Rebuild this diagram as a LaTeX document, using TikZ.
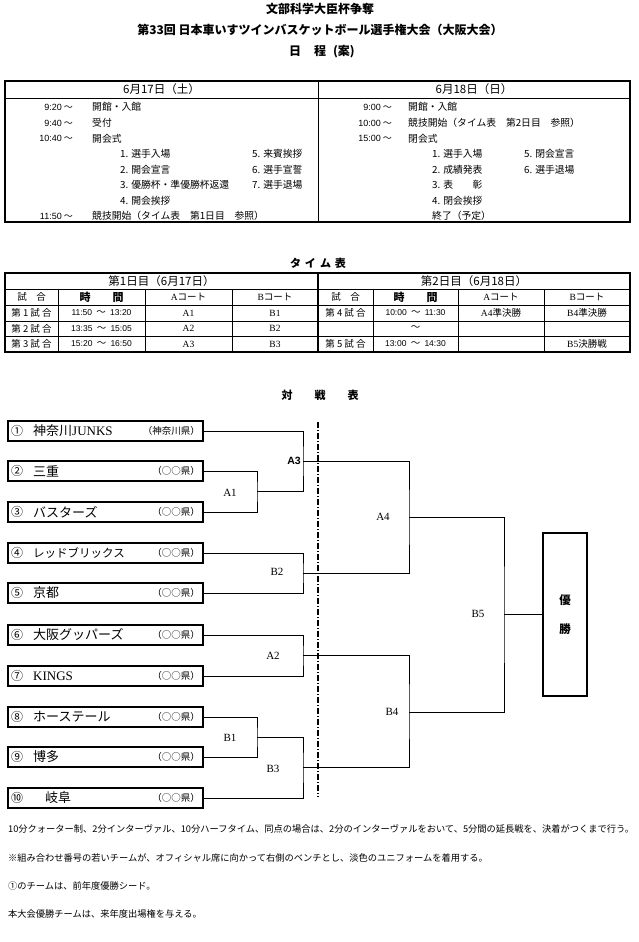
\documentclass[tikz,border=0pt]{standalone}
\usepackage{fontspec}
\setmainfont{Noto Sans CJK JP}
\newfontfamily\lat{Liberation Serif}
\newfontfamily\ars{Liberation Sans}
\begin{document}
\begin{tikzpicture}[x=1pt,y=-1pt,
  frame/.style={line width=1.1pt},
  thin/.style={line width=0.6pt},
  conn/.style={line width=0.8pt},
  ttl/.style={font=\fontsize{12}{14}\selectfont\bfseries, inner sep=0pt},
  txt/.style={font=\fontsize{9.8}{11}\selectfont, inner sep=0pt, anchor=west},
  tim/.style={font=\fontsize{9}{11}\selectfont, inner sep=0pt, anchor=east},
  hdr/.style={font=\fontsize{11.5}{13}\selectfont, inner sep=0pt},
  cell/.style={font=\fontsize{9.5}{11}\selectfont, inner sep=0pt},
  team/.style={draw, line width=1.1pt, minimum width=195pt, minimum height=20pt, inner sep=0pt},
  num/.style={font=\fontsize{12}{14}\selectfont, inner sep=0pt, anchor=west},
  tname/.style={font=\fontsize{13}{15}\selectfont, inner sep=0pt, anchor=west},
  pref/.style={font=\fontsize{9.5}{11}\selectfont, inner sep=0pt, anchor=east},
  lbl/.style={font=\fontsize{11}{13}\selectfont\lat, inner sep=0pt},
  note/.style={font=\fontsize{9.25}{11}\selectfont, inner sep=0pt, anchor=west}
]
\useasboundingbox[fill=white] (0,0) rectangle (639,942);

% titles
\node[ttl] (t1line) at (320,9) {文部科学大臣杯争奪};
\node[ttl] (t2line) at (320,30) {第33回 日本車いすツインバスケットボール選手権大会（大阪大会）};
\node[ttl] (t3line) at (322,52) {日\hspace{13pt}程\hspace{7pt}(案)};

% schedule table
\draw[frame] (5,81) rectangle (630,222);
\draw[thin] (5,98) -- (630,98);
\draw[thin] (318,81) -- (318,222);
\node[hdr] (sh1) at (161.5,89.5) {6月17日（土）};
\node[hdr] (sh2) at (474,89.5) {6月18日（日）};

\node[tim] (lt1) at (73,107) {{\ars 9:20}\ ～};
\node[tim] (lt2) at (73,123) {{\ars 9:40}\ ～};
\node[tim] (lt3) at (73,138.5) {{\ars 10:40}\ ～};
\node[tim] (lt4) at (73,216) {{\ars 11:50}\ ～};
\node[txt] (lx1) at (92,107) {開館・入館};
\node[txt] (lx2) at (92,123) {受付};
\node[txt] (lx3) at (92,138.5) {開会式};
\node[txt] (lx4) at (120,154) {1. 選手入場};
\node[txt] (lx5) at (120,170) {2. 開会宣言};
\node[txt] (lx6) at (120,185) {3. 優勝杯・準優勝杯返還};
\node[txt] (lx7) at (120,201) {4. 開会挨拶};
\node[txt] (lx8) at (252,154) {5. 来賓挨拶};
\node[txt] (lx9) at (252,170) {6. 選手宣誓};
\node[txt] (lx10) at (252,185) {7. 選手退場};
\node[txt] (lx11) at (92,216) {競技開始（タイム表　第1日目　参照）};

\node[tim] (rt1) at (392,107) {{\ars 9:00}\ ～};
\node[tim] (rt2) at (392,123) {{\ars 10:00}\ ～};
\node[tim] (rt3) at (392,138.5) {{\ars 15:00}\ ～};
\node[txt] (rx1) at (408,107) {開館・入館};
\node[txt] (rx2) at (408,123) {競技開始（タイム表　第2日目　参照）};
\node[txt] (rx3) at (408,138.5) {閉会式};
\node[txt] (rx4) at (432,154) {1. 選手入場};
\node[txt] (rx5) at (432,170) {2. 成績発表};
\node[txt] (rx6) at (432,185) {3. 表　　彰};
\node[txt] (rx7) at (432,201) {4. 閉会挨拶};
\node[txt] (rx8) at (524,154) {5. 閉会宣言};
\node[txt] (rx9) at (524,170) {6. 選手退場};
\node[txt] (rx10) at (432,216) {終了（予定）};

% time table
\node[font=\fontsize{11}{13}\selectfont\bfseries, inner sep=0pt] (ttt) at (318,263) {タ\hspace{4pt}イ\hspace{4pt}ム\hspace{4pt}表};
\draw[frame] (5,273) rectangle (630,352);
\foreach \yy in {289,305,321,336} \draw[thin] (5,\yy) -- (630,\yy);
\draw[frame] (318,273) -- (318,352);
\foreach \xx in {58,145,232,373,458,544} \draw[thin] (\xx,289) -- (\xx,352);
\node[hdr] (d1) at (161.5,281) {第1日目（6月17日）};
\node[hdr] (d2) at (474,281) {第2日目（6月18日）};
\node[cell] (c11) at (31.5,297) {試　合};
\node[cell,font=\fontsize{11}{13}\selectfont\bfseries] (c12) at (101.5,297) {時　　間};
\node[cell] (c13) at (188.5,297) {{\lat A}コート};
\node[cell] (c14) at (275,297) {{\lat B}コート};
\node[cell] (c15) at (345.5,297) {試　合};
\node[cell,font=\fontsize{11}{13}\selectfont\bfseries] (c16) at (415.5,297) {時　　間};
\node[cell] (c17) at (501,297) {{\lat A}コート};
\node[cell] (c18) at (587,297) {{\lat B}コート};

\node[cell] (r1a) at (31.5,313) {第 1 試 合};
\node[cell] (r1b) at (101.5,313) {{\ars\fontsize{8.5}{10}\selectfont 11:50}\ \ ～\ \ {\ars\fontsize{8.5}{10}\selectfont 13:20}};
\node[cell] (r1c) at (188.5,313) {\lat A1};
\node[cell] (r1d) at (275,313) {\lat B1};
\node[cell] (r2a) at (31.5,328.5) {第 2 試 合};
\node[cell] (r2b) at (101.5,328.5) {{\ars\fontsize{8.5}{10}\selectfont 13:35}\ \ ～\ \ {\ars\fontsize{8.5}{10}\selectfont 15:05}};
\node[cell] (r2c) at (188.5,328.5) {\lat A2};
\node[cell] (r2d) at (275,328.5) {\lat B2};
\node[cell] (r3a) at (31.5,344) {第 3 試 合};
\node[cell] (r3b) at (101.5,344) {{\ars\fontsize{8.5}{10}\selectfont 15:20}\ \ ～\ \ {\ars\fontsize{8.5}{10}\selectfont 16:50}};
\node[cell] (r3c) at (188.5,344) {\lat A3};
\node[cell] (r3d) at (275,344) {\lat B3};

\node[cell] (s1a) at (345.5,313) {第 4 試 合};
\node[cell] (s1b) at (415.5,313) {{\ars\fontsize{8.5}{10}\selectfont 10:00}\ \ ～\ \ {\ars\fontsize{8.5}{10}\selectfont 11:30}};
\node[cell] (s1c) at (501,313) {{\lat A4}準決勝};
\node[cell] (s1d) at (587,313) {{\lat B4}準決勝};
\node[cell] (s2b) at (415.5,328.5) {～};
\node[cell] (s3a) at (345.5,344) {第 5 試 合};
\node[cell] (s3b) at (415.5,344) {{\ars\fontsize{8.5}{10}\selectfont 13:00}\ \ ～\ \ {\ars\fontsize{8.5}{10}\selectfont 14:30}};
\node[cell] (s3d) at (587,344) {{\lat B5}決勝戦};

% bracket title
\node[font=\fontsize{11}{13}\selectfont\bfseries, inner sep=0pt] (btt) at (320,395) {対　　戦　　表};

% teams
\newcommand\teamrow[4]{%
  \node[team] (t#1) at (105.5,#2) {};
  \node[num] (n#1) at (11,#2) {#3};
  \node[pref] (p#1) at (200,#2) {#4};
}
\teamrow{1}{431}{①}{（神奈川県）}
\node[tname] (m1) at (33,431) {神奈川{\lat JUNKS}};
\teamrow{2}{471}{②}{（○○県）}
\node[tname] (m2) at (33,471) {三重};
\teamrow{3}{512}{③}{（○○県）}
\node[tname] (m3) at (33,512) {バスターズ};
\teamrow{4}{553}{④}{（○○県）}
\node[tname,font=\fontsize{11.5}{13}\selectfont] (m4) at (33,553) {レッドブリックス};
\teamrow{5}{593}{⑤}{（○○県）}
\node[tname] (m5) at (33,593) {京都};
\teamrow{6}{635}{⑥}{（○○県）}
\node[tname] (m6) at (33,635) {大阪グッパーズ};
\teamrow{7}{676}{⑦}{（○○県）}
\node[tname] (m7) at (33,676) {\lat KINGS};
\teamrow{8}{717}{⑧}{（○○県）}
\node[tname] (m8) at (33,717) {ホーステール};
\teamrow{9}{757}{⑨}{（○○県）}
\node[tname] (m9) at (33,757) {博多};
\teamrow{10}{798}{⑩}{（○○県）}
\node[tname] (m10) at (45,798) {岐阜};

\node[draw, line width=1.1pt, minimum width=44pt, minimum height=163pt, inner sep=0pt] (win) at (565,614.5) {};
\node[font=\fontsize{11.5}{13}\selectfont\bfseries, inner sep=0pt] (w1) at (565,600) {優};
\node[font=\fontsize{11.5}{13}\selectfont\bfseries, inner sep=0pt] (w2) at (565,629) {勝};

% junctions
\coordinate (A1) at (257,491.5);
\coordinate (A3) at (303,461);
\coordinate (B2) at (303,573);
\coordinate (A4) at (409,517);
\coordinate (A2) at (303,655.5);
\coordinate (B1) at (257,737);
\coordinate (B3) at (303,767.5);
\coordinate (B4) at (409,712);
\coordinate (B5) at (504,614.5);

\draw[conn] (t2.east) -| (A1) |- (t3.east);
\draw[conn] (t1.east) -| (A3) |- (A1);
\draw[conn] (t4.east) -| (B2) |- (t5.east);
\draw[conn] (A3) -| (A4) |- (B2);
\draw[conn] (t6.east) -| (A2) |- (t7.east);
\draw[conn] (t8.east) -| (B1) |- (t9.east);
\draw[conn] (B1) -| (B3) |- (t10.east);
\draw[conn] (A2) -| (B4) |- (B3);
\draw[conn] (A4) -| (B5) |- (B4);
\draw[conn] (B5) -- (win.west);

% labels
\node[lbl] (lA1) at (230,493) {A1};
\node[font=\fontsize{10.5}{12}\selectfont\ars\bfseries, inner sep=0pt, anchor=east] (lA3) at (301,461) {A3};
\node[lbl] (lB2) at (277,572) {B2};
\node[lbl] (lA4) at (383,517) {A4};
\node[lbl] (lA2) at (273,656) {A2};
\node[lbl] (lB1) at (230,738) {B1};
\node[lbl] (lB3) at (273,769) {B3};
\node[lbl] (lB4) at (392,712) {B4};
\node[lbl] (lB5) at (478,614) {B5};

% dash-dot divider
\coordinate (dv1) at (318,422);
\coordinate (dv2) at (318,797);
\draw[line width=1.4pt, dash pattern=on 6pt off 2pt on 1pt off 2pt] (dv1) -- (dv2);

% notes
\node[note] (nt1) at (8,829) {10分クォーター制、2分インターヴァル、10分ハーフタイム、同点の場合は、2分のインターヴァルをおいて、5分間の延長戦を、決着がつくまで行う。};
\node[note] (nt2) at (8,858) {※組み合わせ番号の若いチームが、オフィシャル席に向かって右側のベンチとし、淡色のユニフォームを着用する。};
\node[note] (nt3) at (8,886) {①のチームは、前年度優勝シード。};
\node[note] (nt4) at (8,914) {本大会優勝チームは、来年度出場権を与える。};
\end{tikzpicture}
\end{document}
